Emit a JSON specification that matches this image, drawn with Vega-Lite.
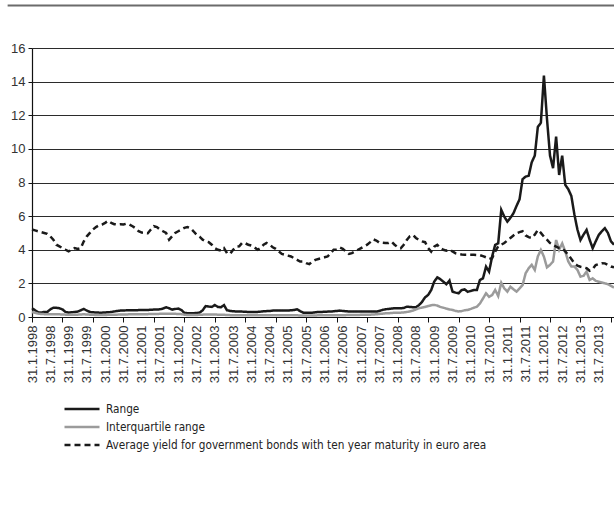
{
"$schema":"https://vega.github.io/schema/vega-lite/v6.json",
"width":582,"height":269,
"autosize":"none",
"padding":{"left":32,"top":48,"right":0,"bottom":188},
"background":"white",
"config":{"view":{"stroke":null},"axis":{"labelFont":"Liberation Sans","labelFontSize":13,"labelColor":"#333333","domainColor":"#111111","tickColor":"#111111","title":null}},
"datasets":{"d":[
{"m":0,"r":0.52,"q":0.3,"y":5.2},{"m":1,"r":0.4,"q":0.25,"y":5.15},{"m":2,"r":0.28,"q":0.2,"y":5.1},{"m":3,"r":0.26,"q":0.18,"y":5.05},{"m":4,"r":0.3,"q":0.17,"y":5.0},{"m":5,"r":0.3,"q":0.16,"y":4.95},{"m":6,"r":0.45,"q":0.16,"y":4.8},{"m":7,"r":0.55,"q":0.17,"y":4.6},{"m":8,"r":0.55,"q":0.17,"y":4.3},{"m":9,"r":0.52,"q":0.16,"y":4.2},{"m":10,"r":0.45,"q":0.15,"y":4.1},{"m":11,"r":0.3,"q":0.14,"y":4.0},
{"m":12,"r":0.26,"q":0.13,"y":3.9},{"m":13,"r":0.28,"q":0.13,"y":4.0},{"m":14,"r":0.3,"q":0.14,"y":4.1},{"m":15,"r":0.32,"q":0.14,"y":4.05},{"m":16,"r":0.4,"q":0.15,"y":4.1},{"m":17,"r":0.48,"q":0.16,"y":4.5},{"m":18,"r":0.38,"q":0.15,"y":4.8},{"m":19,"r":0.3,"q":0.14,"y":5.0},{"m":20,"r":0.28,"q":0.13,"y":5.2},{"m":21,"r":0.27,"q":0.12,"y":5.35},{"m":22,"r":0.26,"q":0.12,"y":5.45},{"m":23,"r":0.26,"q":0.12,"y":5.5},
{"m":24,"r":0.27,"q":0.12,"y":5.6},{"m":25,"r":0.28,"q":0.13,"y":5.72},{"m":26,"r":0.3,"q":0.13,"y":5.6},{"m":27,"r":0.33,"q":0.14,"y":5.52},{"m":28,"r":0.36,"q":0.14,"y":5.5},{"m":29,"r":0.38,"q":0.15,"y":5.52},{"m":30,"r":0.38,"q":0.15,"y":5.5},{"m":31,"r":0.4,"q":0.15,"y":5.55},{"m":32,"r":0.4,"q":0.16,"y":5.5},{"m":33,"r":0.4,"q":0.16,"y":5.4},{"m":34,"r":0.4,"q":0.16,"y":5.28},{"m":35,"r":0.41,"q":0.17,"y":5.1},
{"m":36,"r":0.42,"q":0.17,"y":5.02},{"m":37,"r":0.42,"q":0.17,"y":5.0},{"m":38,"r":0.42,"q":0.17,"y":4.98},{"m":39,"r":0.43,"q":0.18,"y":5.2},{"m":40,"r":0.44,"q":0.18,"y":5.4},{"m":41,"r":0.44,"q":0.18,"y":5.35},{"m":42,"r":0.46,"q":0.19,"y":5.2},{"m":43,"r":0.5,"q":0.2,"y":5.1},{"m":44,"r":0.58,"q":0.2,"y":5.0},{"m":45,"r":0.52,"q":0.2,"y":4.6},{"m":46,"r":0.44,"q":0.19,"y":4.8},{"m":47,"r":0.48,"q":0.19,"y":5.0},
{"m":48,"r":0.5,"q":0.18,"y":5.1},{"m":49,"r":0.42,"q":0.17,"y":5.2},{"m":50,"r":0.25,"q":0.14,"y":5.3},{"m":51,"r":0.22,"q":0.12,"y":5.35},{"m":52,"r":0.22,"q":0.12,"y":5.28},{"m":53,"r":0.22,"q":0.12,"y":5.1},{"m":54,"r":0.24,"q":0.12,"y":4.9},{"m":55,"r":0.26,"q":0.13,"y":4.78},{"m":56,"r":0.4,"q":0.14,"y":4.6},{"m":57,"r":0.65,"q":0.15,"y":4.5},{"m":58,"r":0.62,"q":0.15,"y":4.45},{"m":59,"r":0.6,"q":0.15,"y":4.3},
{"m":60,"r":0.71,"q":0.15,"y":4.1},{"m":61,"r":0.6,"q":0.14,"y":4.0},{"m":62,"r":0.58,"q":0.14,"y":3.95},{"m":63,"r":0.71,"q":0.13,"y":4.1},{"m":64,"r":0.4,"q":0.12,"y":3.8},{"m":65,"r":0.36,"q":0.11,"y":3.75},{"m":66,"r":0.34,"q":0.1,"y":4.0},{"m":67,"r":0.33,"q":0.1,"y":4.18},{"m":68,"r":0.32,"q":0.1,"y":4.2},{"m":69,"r":0.32,"q":0.1,"y":4.42},{"m":70,"r":0.31,"q":0.1,"y":4.38},{"m":71,"r":0.3,"q":0.1,"y":4.3},
{"m":72,"r":0.3,"q":0.1,"y":4.25},{"m":73,"r":0.3,"q":0.11,"y":4.15},{"m":74,"r":0.3,"q":0.11,"y":4.0},{"m":75,"r":0.32,"q":0.11,"y":4.1},{"m":76,"r":0.34,"q":0.1,"y":4.3},{"m":77,"r":0.35,"q":0.1,"y":4.4},{"m":78,"r":0.36,"q":0.1,"y":4.3},{"m":79,"r":0.38,"q":0.1,"y":4.15},{"m":80,"r":0.38,"q":0.1,"y":4.05},{"m":81,"r":0.38,"q":0.1,"y":3.9},{"m":82,"r":0.38,"q":0.1,"y":3.75},{"m":83,"r":0.38,"q":0.1,"y":3.7},
{"m":84,"r":0.38,"q":0.1,"y":3.65},{"m":85,"r":0.4,"q":0.1,"y":3.6},{"m":86,"r":0.42,"q":0.1,"y":3.5},{"m":87,"r":0.46,"q":0.1,"y":3.4},{"m":88,"r":0.35,"q":0.09,"y":3.3},{"m":89,"r":0.26,"q":0.09,"y":3.3},{"m":90,"r":0.26,"q":0.09,"y":3.2},{"m":91,"r":0.26,"q":0.09,"y":3.14},{"m":92,"r":0.26,"q":0.09,"y":3.3},{"m":93,"r":0.28,"q":0.09,"y":3.4},{"m":94,"r":0.3,"q":0.1,"y":3.45},{"m":95,"r":0.3,"q":0.1,"y":3.5},
{"m":96,"r":0.31,"q":0.1,"y":3.55},{"m":97,"r":0.32,"q":0.1,"y":3.6},{"m":98,"r":0.32,"q":0.1,"y":3.8},{"m":99,"r":0.34,"q":0.1,"y":4.0},{"m":100,"r":0.36,"q":0.11,"y":4.0},{"m":101,"r":0.38,"q":0.11,"y":4.13},{"m":102,"r":0.36,"q":0.11,"y":4.05},{"m":103,"r":0.34,"q":0.11,"y":3.9},{"m":104,"r":0.33,"q":0.12,"y":3.75},{"m":105,"r":0.32,"q":0.12,"y":3.8},{"m":106,"r":0.32,"q":0.12,"y":3.9},{"m":107,"r":0.32,"q":0.12,"y":4.0},
{"m":108,"r":0.32,"q":0.13,"y":4.1},{"m":109,"r":0.32,"q":0.13,"y":4.2},{"m":110,"r":0.32,"q":0.14,"y":4.3},{"m":111,"r":0.32,"q":0.14,"y":4.45},{"m":112,"r":0.32,"q":0.15,"y":4.62},{"m":113,"r":0.32,"q":0.16,"y":4.55},{"m":114,"r":0.36,"q":0.18,"y":4.42},{"m":115,"r":0.42,"q":0.2,"y":4.42},{"m":116,"r":0.46,"q":0.22,"y":4.4},{"m":117,"r":0.48,"q":0.22,"y":4.4},{"m":118,"r":0.5,"q":0.24,"y":4.48},{"m":119,"r":0.52,"q":0.25,"y":4.3},
{"m":120,"r":0.52,"q":0.26,"y":4.15},{"m":121,"r":0.52,"q":0.26,"y":4.09},{"m":122,"r":0.54,"q":0.27,"y":4.3},{"m":123,"r":0.61,"q":0.3,"y":4.58},{"m":124,"r":0.6,"q":0.33,"y":4.8},{"m":125,"r":0.58,"q":0.38,"y":4.88},{"m":126,"r":0.58,"q":0.45,"y":4.7},{"m":127,"r":0.71,"q":0.52,"y":4.58},{"m":128,"r":0.9,"q":0.56,"y":4.5},{"m":129,"r":1.17,"q":0.6,"y":4.45},{"m":130,"r":1.31,"q":0.65,"y":4.1},{"m":131,"r":1.6,"q":0.7,"y":3.89},
{"m":132,"r":2.1,"q":0.72,"y":4.18},{"m":133,"r":2.36,"q":0.68,"y":4.29},{"m":134,"r":2.25,"q":0.6,"y":4.1},{"m":135,"r":2.1,"q":0.55,"y":4.0},{"m":136,"r":1.95,"q":0.5,"y":3.95},{"m":137,"r":2.17,"q":0.45,"y":4.0},{"m":138,"r":1.51,"q":0.42,"y":3.9},{"m":139,"r":1.45,"q":0.36,"y":3.79},{"m":140,"r":1.41,"q":0.33,"y":3.75},{"m":141,"r":1.6,"q":0.35,"y":3.72},{"m":142,"r":1.64,"q":0.4,"y":3.7},{"m":143,"r":1.5,"q":0.42,"y":3.7},
{"m":144,"r":1.55,"q":0.48,"y":3.7},{"m":145,"r":1.6,"q":0.55,"y":3.7},{"m":146,"r":1.61,"q":0.61,"y":3.69},{"m":147,"r":2.2,"q":0.8,"y":3.68},{"m":148,"r":2.3,"q":1.1,"y":3.62},{"m":149,"r":2.99,"q":1.41,"y":3.55},{"m":150,"r":2.7,"q":1.2,"y":3.45},{"m":151,"r":3.59,"q":1.3,"y":3.5},{"m":152,"r":4.29,"q":1.61,"y":3.89},{"m":153,"r":4.38,"q":1.25,"y":4.2},{"m":154,"r":6.37,"q":2.04,"y":4.3},{"m":155,"r":5.97,"q":1.7,"y":4.4},
{"m":156,"r":5.67,"q":1.51,"y":4.55},{"m":157,"r":5.9,"q":1.8,"y":4.7},{"m":158,"r":6.17,"q":1.65,"y":4.85},{"m":159,"r":6.6,"q":1.51,"y":4.98},{"m":160,"r":7.0,"q":1.7,"y":5.05},{"m":161,"r":8.2,"q":1.9,"y":5.1},{"m":162,"r":8.35,"q":2.6,"y":4.85},{"m":163,"r":8.4,"q":2.9,"y":4.75},{"m":164,"r":9.2,"q":3.1,"y":4.7},{"m":165,"r":9.6,"q":2.8,"y":4.9},{"m":166,"r":11.3,"q":3.6,"y":5.18},{"m":167,"r":11.55,"q":3.99,"y":5.0},
{"m":168,"r":14.36,"q":3.59,"y":4.78},{"m":169,"r":11.8,"q":2.95,"y":4.6},{"m":170,"r":9.6,"q":3.1,"y":4.4},{"m":171,"r":8.85,"q":3.3,"y":4.3},{"m":172,"r":10.73,"q":4.58,"y":4.18},{"m":173,"r":8.45,"q":4.0,"y":4.1},{"m":174,"r":9.6,"q":4.38,"y":4.09},{"m":175,"r":7.86,"q":3.9,"y":3.9},{"m":176,"r":7.6,"q":3.3,"y":3.69},{"m":177,"r":7.2,"q":3.0,"y":3.45},{"m":178,"r":6.1,"q":3.0,"y":3.2},{"m":179,"r":5.2,"q":2.8,"y":3.05},
{"m":180,"r":4.58,"q":2.4,"y":2.99},{"m":181,"r":4.9,"q":2.45,"y":2.95},{"m":182,"r":5.18,"q":2.7,"y":2.9},{"m":183,"r":4.6,"q":2.2,"y":2.75},{"m":184,"r":4.09,"q":2.3,"y":2.85},{"m":185,"r":4.5,"q":2.15,"y":3.09},{"m":186,"r":4.88,"q":2.1,"y":3.15},{"m":187,"r":5.1,"q":2.05,"y":3.2},{"m":188,"r":5.28,"q":2.0,"y":3.19},{"m":189,"r":5.0,"q":1.95,"y":3.1},{"m":190,"r":4.5,"q":1.85,"y":3.0},{"m":191,"r":4.3,"q":1.75,"y":2.95}
]},
"layer":[
{"data":{"name":"d"},
 "transform":[{"fold":["r","q","y"],"as":["k","v"]}],
 "mark":{"type":"line","strokeWidth":2.5,"strokeJoin":"miter"},
 "encoding":{
  "x":{"field":"m","type":"quantitative","scale":{"domain":[0,191],"nice":false,"zero":false},
   "axis":{"values":[0,2,4,6,8,10,12,14,16,18,20,22,24,26,28,30,32,34,36,38,40,42,44,46,48,50,52,54,56,58,60,62,64,66,68,70,72,74,76,78,80,82,84,86,88,90,92,94,96,98,100,102,104,106,108,110,112,114,116,118,120,122,124,126,128,130,132,134,136,138,140,142,144,146,148,150,152,154,156,158,160,162,164,166,168,170,172,174,176,178,180,182,184,186,188,190],
    "tickCount":200,
    "labelExpr":"datum.value % 6 == 0 ? '31.' + (datum.value % 12 + 1) + '.' + (1998 + floor(datum.value / 12)) : ''",
    "labelAngle":270,"labelAlign":"right","labelBaseline":"middle","labelPadding":3,"labelOverlap":false,"labelFlush":false,"labelBound":false,
    "tickSize":5,"tickWidth":1,"tickOpacity":{"condition":{"test":"datum.value % 10 == 0","value":1},"value":0},
    "grid":false,"domainWidth":1.2}},
  "y":{"field":"v","type":"quantitative","scale":{"domain":[0,16],"nice":false,"zero":true},
   "axis":{"values":[0,2,4,6,8,10,12,14,16],"tickCount":20,"labelOverlap":false,"grid":true,"gridColor":"#2b2b2b","gridWidth":1,"tickSize":4,"labelPadding":3,"domainWidth":1.2}},
  "color":{"field":"k","type":"nominal","scale":{"domain":["r","q","y"],"range":["#1a1a1a","#9b9b9b","#1a1a1a"]},
   "legend":{"orient":"none","legendX":31,"legendY":352,"direction":"vertical","title":null,"symbolType":"stroke","symbolSize":1225,"symbolStrokeWidth":2.5,"labelFont":"DejaVu Sans Condensed, Liberation Sans Narrow, Liberation Sans","labelFontSize":11.7,"labelColor":"#222222","labelOffset":5,"labelLimit":600,"clipHeight":18,"rowPadding":0,"padding":0,
    "labelExpr":"datum.value == 'r' ? 'Range' : datum.value == 'q' ? 'Interquartile range' : 'Average yield for government bonds with ten year maturity in euro area'"}},
  "strokeDash":{"field":"k","type":"nominal","scale":{"domain":["r","q","y"],"range":[[1,0],[1,0],[6,4]]},
   "legend":{"orient":"none","legendX":31,"legendY":352,"direction":"vertical","title":null,"symbolType":"stroke","symbolSize":1225,"symbolStrokeWidth":2.5,"labelFont":"DejaVu Sans Condensed, Liberation Sans Narrow, Liberation Sans","labelFontSize":11.7,"labelColor":"#222222","labelOffset":5,"labelLimit":600,"clipHeight":18,"rowPadding":0,"padding":0,
    "labelExpr":"datum.value == 'r' ? 'Range' : datum.value == 'q' ? 'Interquartile range' : 'Average yield for government bonds with ten year maturity in euro area'"}}
 }},
{"data":{"values":[{"a":1}]},
 "mark":{"type":"rule","clip":false,"color":"#6b6b6b","strokeWidth":2},
 "encoding":{"x":{"datum":-8,"type":"quantitative"},"x2":{"datum":191},"y":{"datum":18.53,"type":"quantitative"}}}
]
}
